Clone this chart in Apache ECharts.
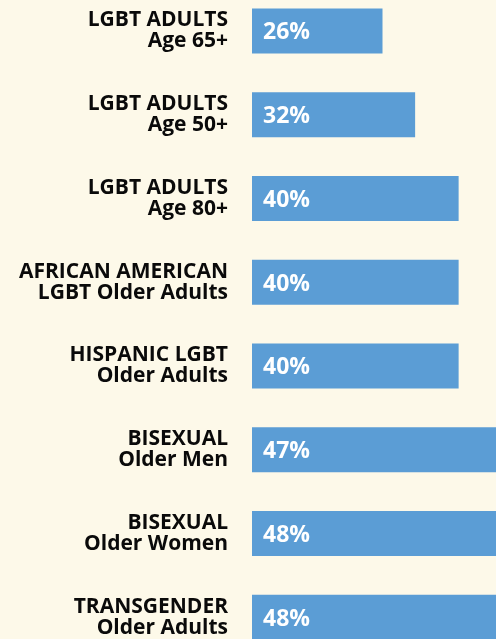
<!DOCTYPE html>
<html><head><meta charset="utf-8">
<script src="https://cdn.jsdelivr.net/npm/echarts@6/dist/echarts.min.js"></script>
<style>html,body{margin:0;padding:0;background:#fdf9e9;overflow:hidden;width:496px;height:639px;position:relative;}
#c{position:absolute;left:0;top:-20px;width:540px;height:700px;}</style>
</head><body><div id="c"></div>
<script>
const categories = [
  "LGBT ADULTS\nAge 65+",
  "LGBT ADULTS\nAge 50+",
  "LGBT ADULTS\nAge 80+",
  "AFRICAN AMERICAN\nLGBT Older Adults",
  "HISPANIC LGBT\nOlder Adults",
  "BISEXUAL\nOlder Men",
  "BISEXUAL\nOlder Women",
  "TRANSGENDER\nOlder Adults"
];
const values = [26, 32, 40, 40, 40, 47, 48, 48];

const chart = echarts.init(document.getElementById('c'), null, {renderer: 'canvas'});
chart.setOption({
  backgroundColor: '#fdf9e9',
  animation: false,
  grid: {left: 252, top: 9, width: 261, height: 670, containLabel: false},
  xAxis: {type: 'value', min: 2, max: 50, show: false},
  yAxis: {
    type: 'category', data: categories, inverse: true,
    axisLine: {show: false}, axisTick: {show: false}, splitLine: {show: false},
    axisLabel: {
      margin: 24, align: 'right', color: '#0a0a0a', fontFamily: 'Open Sans', fontWeight: 'bold',
      fontSize: 21, lineHeight: 21
    }
  },
  series: [{
    type: 'bar', data: values, barWidth: 45,
    itemStyle: {color: '#5b9dd5'},
    label: {
      show: true, position: 'insideLeft', distance: 11, formatter: '{c}%',
      color: '#fff', fontFamily: 'Open Sans', fontWeight: 'bold', fontSize: 23, offset: [0, 2]
    }
  }]
});
</script></body></html>
